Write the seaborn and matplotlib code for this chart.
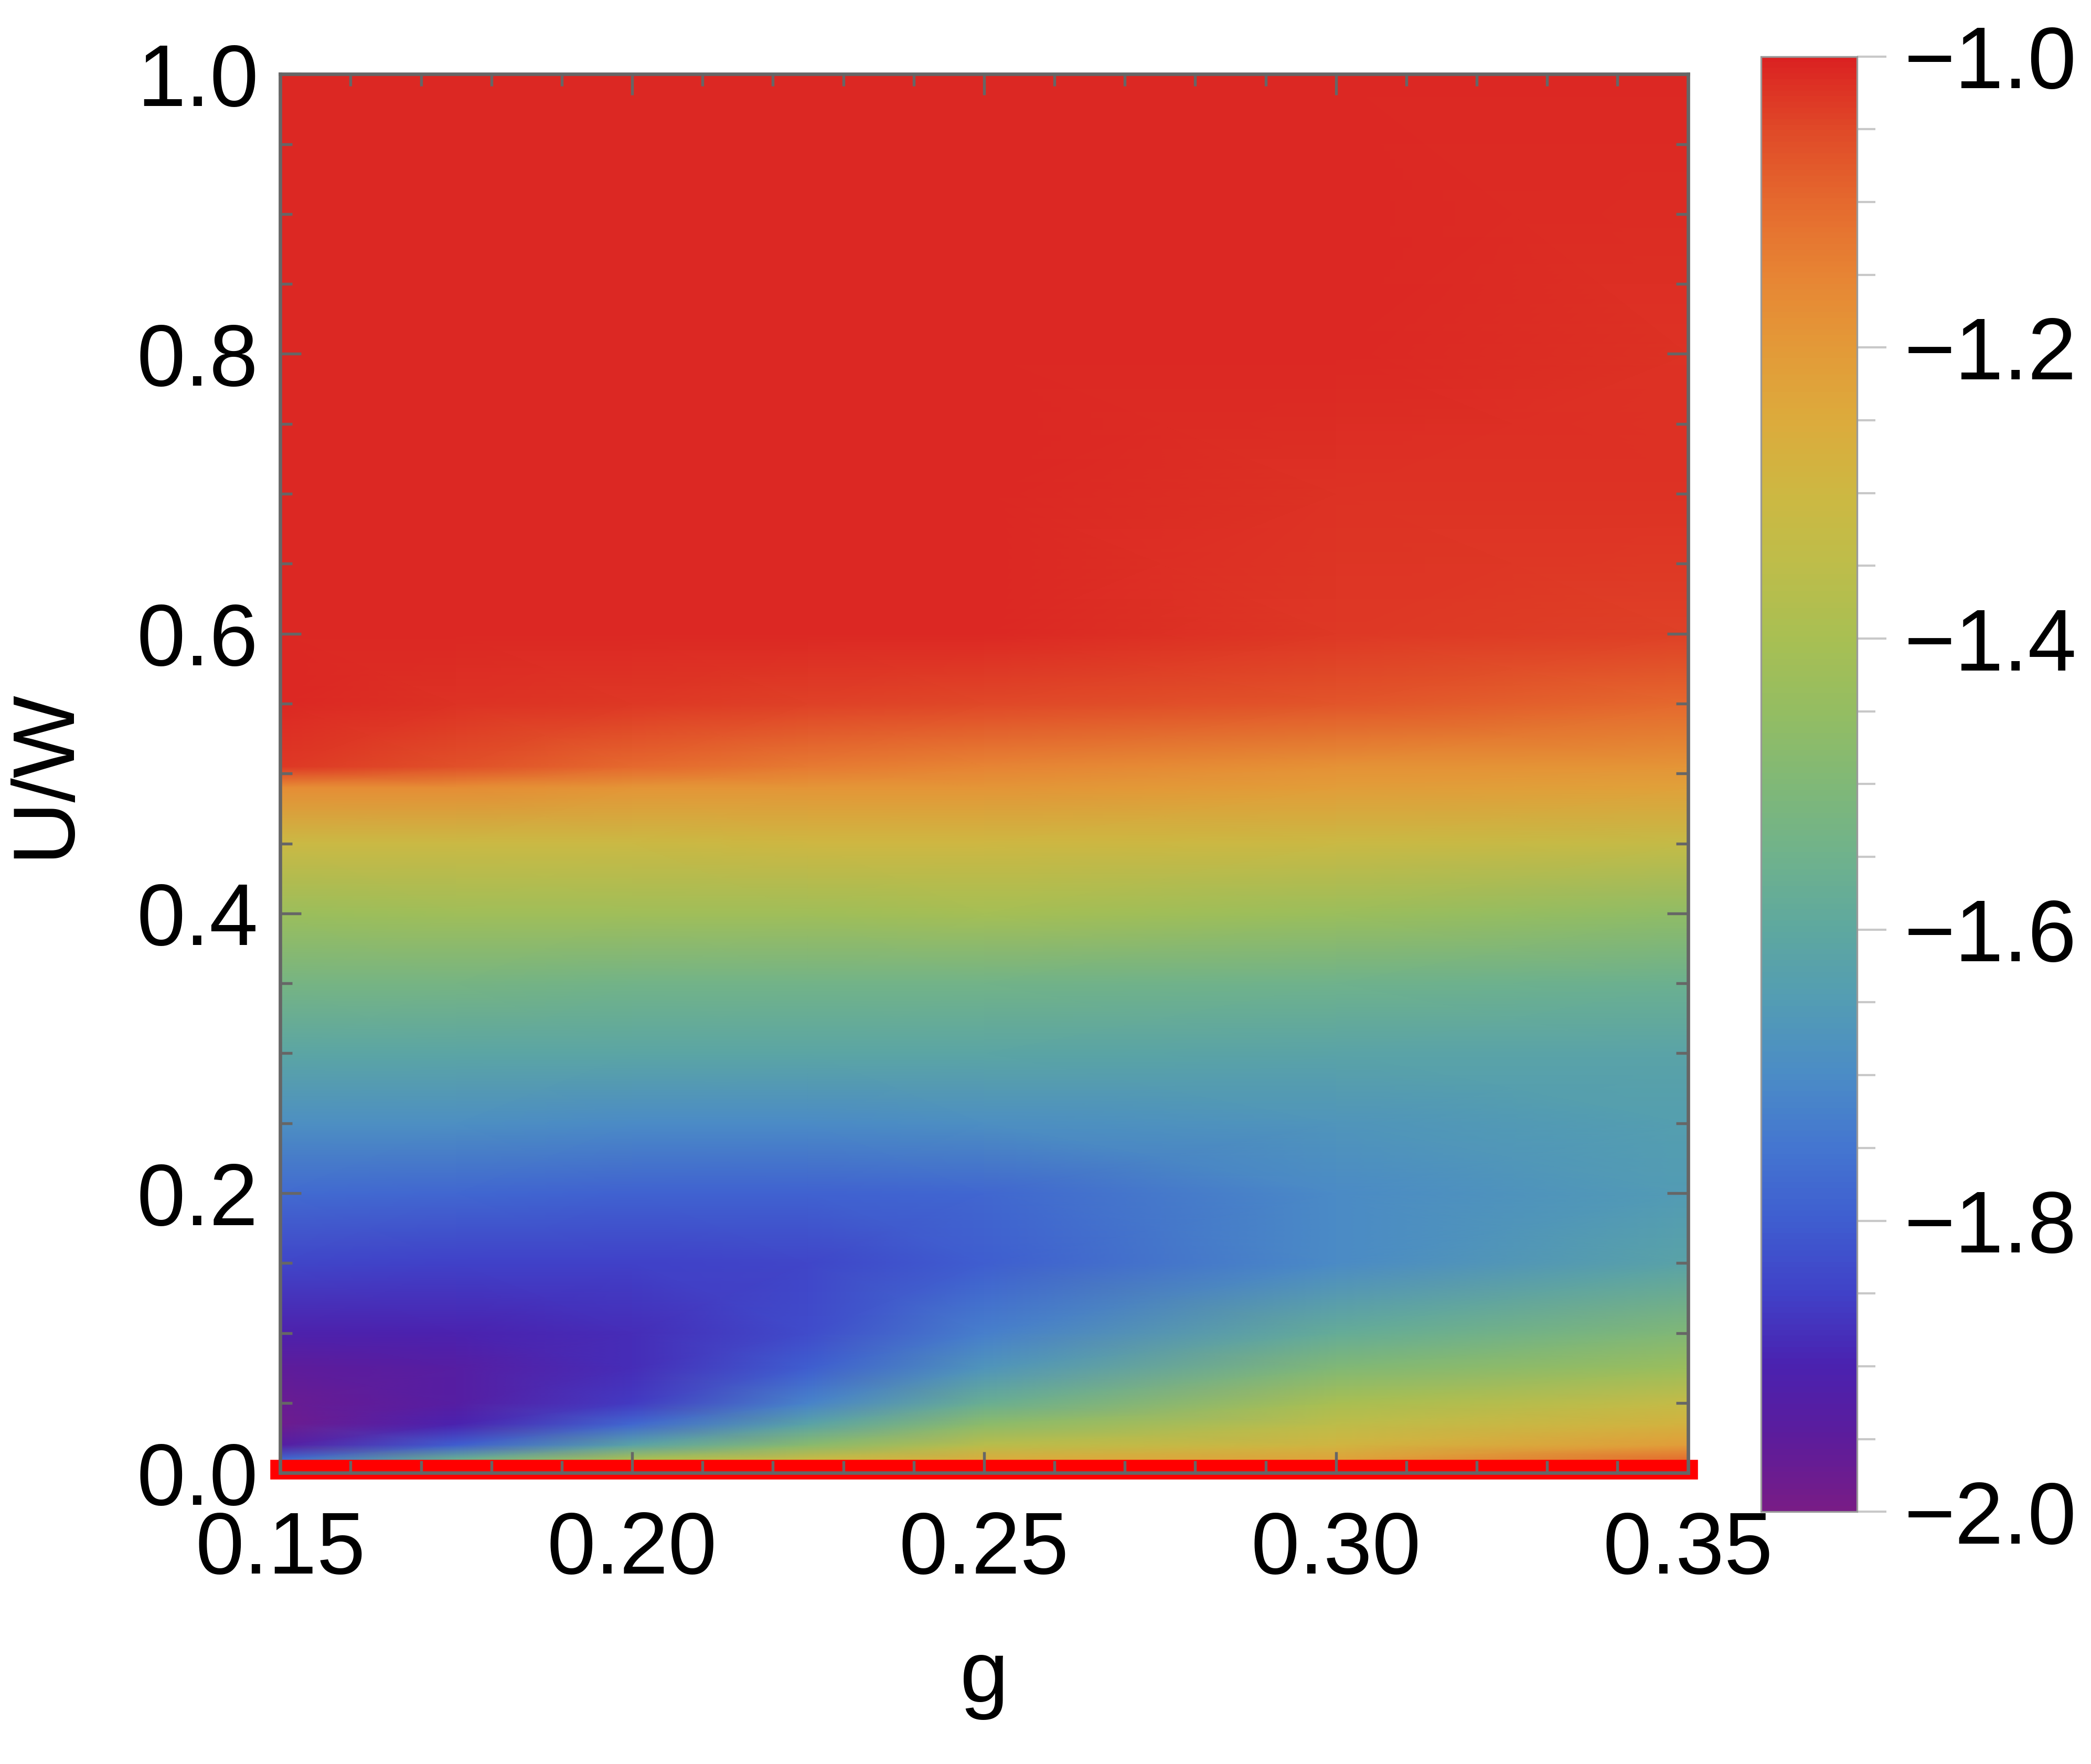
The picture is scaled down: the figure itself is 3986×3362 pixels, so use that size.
import numpy as np
import matplotlib
matplotlib.use("Agg")
import matplotlib.pyplot as plt
from matplotlib.ticker import MultipleLocator
from matplotlib.transforms import offset_copy
import seaborn as sns

# grid
g_vals = [0.15, 0.175, 0.20, 0.225, 0.25, 0.30, 0.35]
u_vals = [0.0, 0.01, 0.02, 0.035, 0.05, 0.075, 0.1, 0.15, 0.2, 0.25, 0.3,
          0.35, 0.4, 0.45, 0.49, 0.505, 0.55, 0.6, 0.7, 0.8, 1.0]

# one column of values per g (bottom -> top)
e_g0150 = [-1.60, -1.78, -1.93, -1.98, -1.97, -1.95, -1.91, -1.84, -1.77, -1.69, -1.61,
           -1.53, -1.43, -1.31, -1.17, -1.03, -1.01, -1.01, -1.01, -1.01, -1.01]
e_g0175 = [-1.45, -1.57, -1.80, -1.90, -1.93, -1.93, -1.90, -1.85, -1.78, -1.69, -1.61,
           -1.53, -1.42, -1.31, -1.17, -1.06, -1.02, -1.01, -1.01, -1.01, -1.01]
e_g0200 = [-1.35, -1.40, -1.62, -1.78, -1.86, -1.88, -1.88, -1.85, -1.79, -1.70, -1.61,
           -1.54, -1.42, -1.31, -1.19, -1.10, -1.03, -1.01, -1.01, -1.01, -1.01]
e_g0225 = [-1.28, -1.32, -1.48, -1.62, -1.72, -1.80, -1.83, -1.84, -1.79, -1.70, -1.61,
           -1.54, -1.42, -1.30, -1.19, -1.13, -1.04, -1.01, -1.01, -1.01, -1.01]
e_g0250 = [-1.24, -1.26, -1.36, -1.47, -1.57, -1.67, -1.73, -1.80, -1.78, -1.69, -1.61,
           -1.54, -1.41, -1.30, -1.19, -1.15, -1.05, -1.01, -1.01, -1.01, -1.01]
e_g0300 = [-1.22, -1.23, -1.29, -1.35, -1.40, -1.50, -1.58, -1.70, -1.70, -1.67, -1.62,
           -1.55, -1.43, -1.31, -1.21, -1.18, -1.07, -1.03, -1.02, -1.01, -1.01]
e_g0350 = [-1.10, -1.11, -1.21, -1.28, -1.33, -1.43, -1.50, -1.62, -1.65, -1.64, -1.62,
           -1.56, -1.46, -1.33, -1.22, -1.19, -1.10, -1.04, -1.02, -1.02, -1.01]

# red line along U/W = 0
line_u = [0.0]

x_ticks = [0.15, 0.20, 0.25, 0.30, 0.35]
y_ticks = [0.0, 0.2, 0.4, 0.6, 0.8, 1.0]
cbar_ticks = [-2.0, -1.8, -1.6, -1.4, -1.2, -1.0]

# colour scale sampled from the legend bar, -2.0 -> -1.0
scale_colors = ["#781c86", "#5c1c9c", "#4a22b0", "#4042c8", "#3f5ed0", "#4476d0",
                "#4b8cc6", "#539cb4", "#5ea89f", "#6fb28c", "#80b877", "#94bd62",
                "#a8bf53", "#bdbd4a", "#cdb842", "#dcab3c", "#e39a38", "#e78534",
                "#e56a2e", "#e04a28", "#db2222"]

sns.set_style("ticks")
plt.rcParams["font.family"] = ["Liberation Sans", "DejaVu Sans"]
plt.rcParams["axes.unicode_minus"] = True
plt.rcParams["text.color"] = "black"
plt.rcParams["axes.labelcolor"] = "black"
plt.rcParams["xtick.labelcolor"] = "black"
plt.rcParams["ytick.labelcolor"] = "black"

cmap = sns.blend_palette(scale_colors, as_cmap=True)
Z = np.column_stack([e_g0150, e_g0175, e_g0200, e_g0225, e_g0250, e_g0300, e_g0350])

fig = plt.figure(figsize=(3987 / 300, 3362 / 300), dpi=300)
ax = fig.add_axes([0.134, 0.165, 0.673, 0.793])
cax = fig.add_axes([0.842, 0.143, 0.046, 0.825])

mesh = ax.pcolormesh(g_vals, u_vals, Z, cmap=cmap, vmin=-2.0, vmax=-1.0,
                     shading="gouraud", rasterized=True, zorder=1)

# thick red line, nudged up a little like the original
line_tr = offset_copy(ax.get_yaxis_transform(), fig=fig, x=0, y=1.5, units="points")
for u in line_u:
    ax.plot([0, 1], [u, u], color="#ff0000", lw=9, clip_on=False, zorder=2,
            solid_capstyle="projecting", transform=line_tr)

ax.set_axisbelow(False)
ax.set_xlim(0.15, 0.35)
ax.set_ylim(0.0, 1.0)
ax.set_xticks(x_ticks)
ax.set_yticks(y_ticks)
ax.set_xticklabels([f"{v:.2f}" for v in x_ticks])
ax.set_yticklabels([f"{v:.1f}" for v in y_ticks])
ax.xaxis.set_minor_locator(MultipleLocator(0.01))
ax.yaxis.set_minor_locator(MultipleLocator(0.05))

frame_col = "#666666"
for s in ax.spines.values():
    s.set_color(frame_col)
    s.set_linewidth(1.6)
    s.set_zorder(3)
ax.tick_params(which="both", direction="in", top=True, right=True,
               color=frame_col, width=1.3, labelsize=40, labelcolor="black")
ax.tick_params(which="major", length=9.5)
ax.tick_params(which="minor", length=5.5)
ax.tick_params(axis="x", which="major", pad=17)
ax.tick_params(axis="y", which="major", pad=10)

ax.set_xlabel("g", fontsize=40)
ax.set_ylabel("U/W", fontsize=40)
ax.xaxis.set_label_coords(0.5, -0.118)
ax.yaxis.set_label_coords(-0.138, 0.5)

cb = fig.colorbar(mesh, cax=cax)
cb.set_ticks(cbar_ticks)
cb.set_ticklabels([f"{v:.1f}".replace("-", "\u2212") for v in cbar_ticks])
cb.ax.yaxis.set_minor_locator(MultipleLocator(0.05))
cb.outline.set_edgecolor("#999999")
cb.outline.set_linewidth(0.8)
cax.tick_params(which="both", direction="out", color="#c8c8c8", width=1.0,
                labelsize=40, labelcolor="black", right=True, left=False)
cax.tick_params(which="major", length=13.5, pad=8)
cax.tick_params(which="minor", length=8.4)

fig.savefig("out.png", dpi=300)
